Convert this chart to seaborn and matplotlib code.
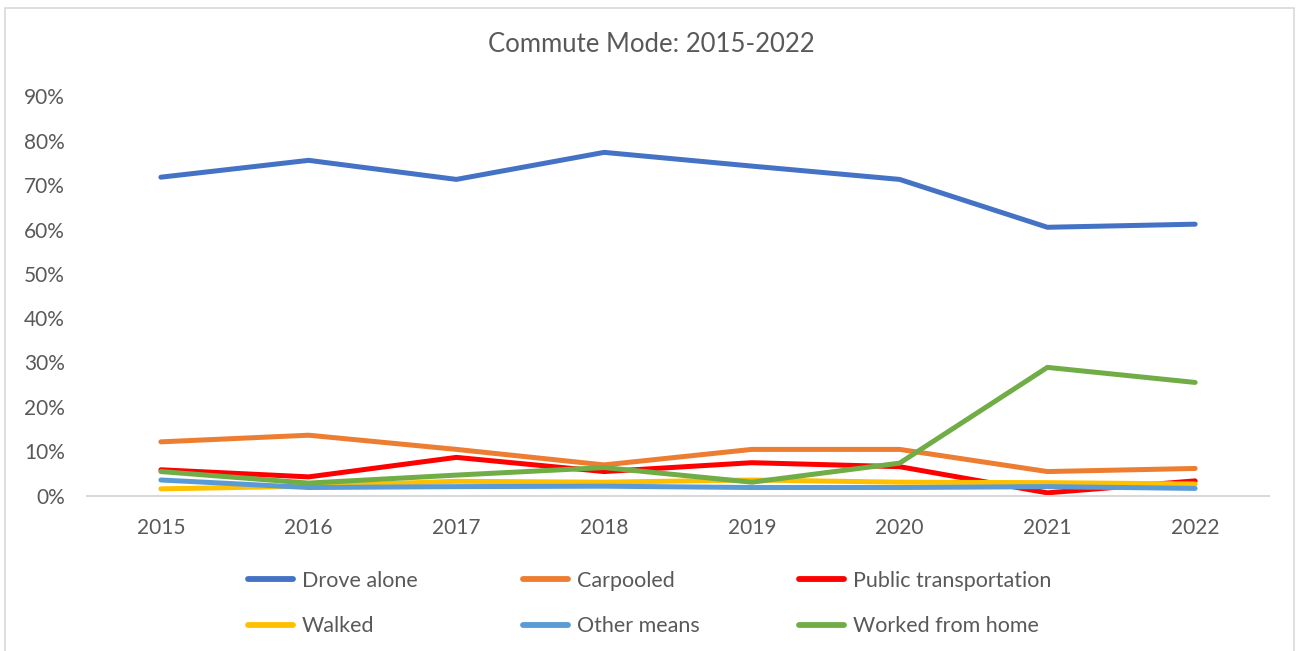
import matplotlib
matplotlib.use("Agg")
import matplotlib.pyplot as plt
import seaborn as sns
import pandas as pd
from matplotlib.patches import Rectangle
from matplotlib.ticker import PercentFormatter

years = [2015, 2016, 2017, 2018, 2019, 2020, 2021, 2022]
drove_alone = [71.8, 75.6, 71.3, 77.4, 74.3, 71.3, 60.5, 61.2]
carpooled = [12.1, 13.6, 10.4, 6.9, 10.4, 10.4, 5.4, 6.1]
public_transportation = [5.8, 4.2, 8.6, 5.4, 7.4, 6.5, 0.6, 3.3]
walked = [1.5, 2.1, 3.2, 3.0, 3.5, 3.0, 2.9, 2.6]
other_means = [3.5, 1.8, 2.0, 2.1, 1.8, 1.8, 2.0, 1.6]
worked_from_home = [5.4, 2.8, 4.6, 6.3, 3.0, 7.3, 28.9, 25.5]

series_names = ["Drove alone", "Carpooled", "Public transportation",
                "Walked", "Other means", "Worked from home"]
series_values = [drove_alone, carpooled, public_transportation,
                 walked, other_means, worked_from_home]
colors = ["#4472C4", "#ED7D31", "#FF0000", "#FFC000", "#5B9BD5", "#70AD47"]
title = "Commute Mode: 2015-2022"

rows = []
for name, vals in zip(series_names, series_values):
    for y, v in zip(years, vals):
        rows.append({"Year": y, "Share": v / 100.0, "Mode": name})
df = pd.DataFrame(rows)

sns.set_theme(style="white")
plt.rcParams["font.family"] = ["Lato", "DejaVu Sans"]

W, H = 1299, 651
fig = plt.figure(figsize=(W / 100, H / 100), dpi=100)
ax = fig.add_axes([87 / W, 1 - 495.5 / H, (1269 - 87) / W, (495.5 - 96.5) / H])

sns.lineplot(data=df, x="Year", y="Share", hue="Mode", hue_order=series_names,
             palette=colors, linewidth=3.6, sort=False, ax=ax, legend=True)
for line in ax.lines:
    line.set_solid_capstyle("round")

ax.set_xlim(years[0] - 0.5, years[-1] + 0.5)
ax.set_ylim(0, 0.9)
ax.set_xticks(years)
ax.set_xticklabels([str(y) for y in years])
ax.set_yticks([i / 10 for i in range(10)])
ax.yaxis.set_major_formatter(PercentFormatter(1.0, decimals=0))
ax.set_xlabel("")
ax.set_ylabel("")
for s in ["top", "right", "left"]:
    ax.spines[s].set_visible(False)
ax.spines["bottom"].set_color("#D9D9D9")
ax.spines["bottom"].set_linewidth(1.5)
ax.tick_params(axis="both", length=0, labelsize=15, colors="#595959")
ax.tick_params(axis="y", pad=16)
ax.tick_params(axis="x", pad=16)
ax.grid(False)

handles, labels = ax.get_legend_handles_labels()
ax.get_legend().remove()
for h in handles:
    h.set_linewidth(4.2)
    h.set_solid_capstyle("round")

# legend laid out row-wise in three equal-width columns (like Excel)
col_x = [248, 523, 799]
for c in range(3):
    idx = [c, c + 3]
    leg = fig.legend([handles[i] for i in idx], [labels[i] for i in idx],
                     ncol=1, loc="center left",
                     bbox_to_anchor=(col_x[c] / W, 1 - 603.5 / H),
                     frameon=False, fontsize=15.5, handlelength=2.1,
                     handletextpad=0.4, labelspacing=1.2,
                     borderpad=0, borderaxespad=0)
    for t in leg.get_texts():
        t.set_color("#595959")

fig.text(651 / W, 1 - 45 / H, title, ha="center", va="center",
         fontsize=18.5, color="#595959")

fig.patches.append(Rectangle((5 / W, -0.05), (1294 - 5) / W, 1.05 - 8 / H,
                             transform=fig.transFigure, fill=False,
                             edgecolor="#D9D9D9", linewidth=1.2))

fig.savefig("out.png", dpi=100)
